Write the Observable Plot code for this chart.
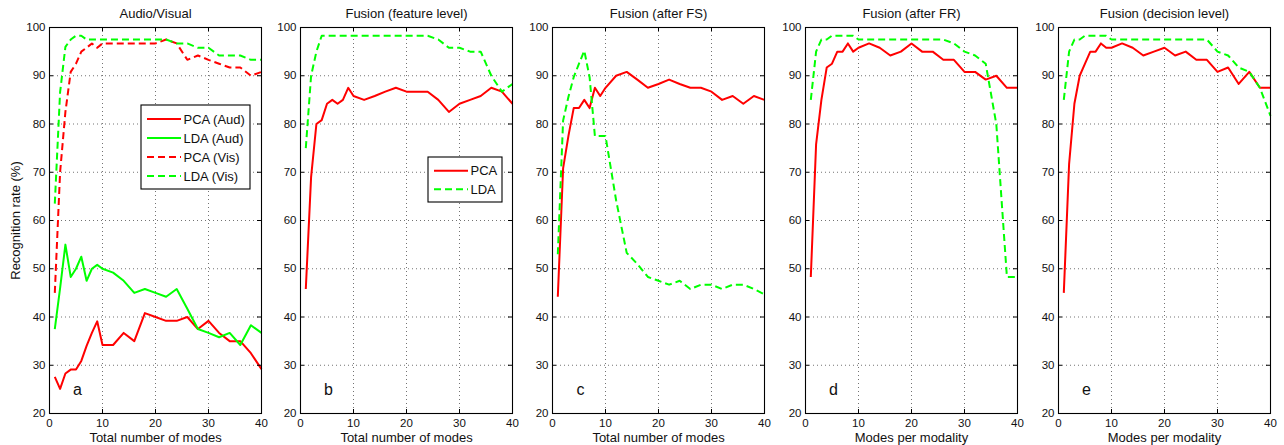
<!DOCTYPE html>
<html>
<head>
<meta charset="utf-8">
<script src="https://cdn.jsdelivr.net/npm/d3@7"></script>
<script src="https://cdn.jsdelivr.net/npm/@observablehq/plot@0.6"></script>
<style>
  html, body { margin: 0; padding: 0; background: #fff; }
  #fig { position: relative; width: 1284px; height: 445px; overflow: hidden; font-family: "Liberation Sans", Arial, Helvetica, sans-serif; }
  #fig > div { position: absolute; top: 0; }
</style>
</head>
<body>
<div id="fig"></div>
<script>
// ---- data ----
const modes = [1,2,3,4,5,6,7,8,9,10,12,14,16,18,20,22,24,26,28,30,32,34,36,38,40];
const xTicks = [0,10,20,30,40];
const yTicks = [20,30,40,50,60,70,80,90,100];

const titles = ["Audio/Visual","Fusion (feature level)","Fusion (after FS)","Fusion (after FR)","Fusion (decision level)"];
const xLabels = ["Total number of modes","Total number of modes","Total number of modes","Modes per modality","Modes per modality"];
const letters = ["a","b","c","d","e"];
const yLabel = "Recognition rate (%)";

// Panel a
const pcaAud = [27.6,25.1,28.3,29.1,29.1,30.9,34.0,36.7,39.1,34.2,34.2,36.7,35.0,40.8,40.0,39.2,39.2,40.0,37.5,39.2,36.7,35.0,35.0,32.5,29.2];
const ldaAud = [37.5,46.0,55.0,48.3,50.0,52.5,47.5,50.0,50.8,50.0,49.2,47.5,45.0,45.8,45.0,44.2,45.8,41.7,37.5,36.7,35.8,36.7,34.2,38.3,36.7];
const pcaVis = [45.0,70.0,82.5,90.8,92.5,95.0,95.8,96.7,95.8,96.7,96.7,96.7,96.7,96.7,96.7,97.5,96.7,93.3,94.2,93.3,92.5,91.7,91.7,90.0,90.8];
const ldaVis = [63.5,86.6,96.0,97.5,98.3,98.3,97.5,97.5,97.5,97.5,97.5,97.5,97.5,97.5,97.5,97.5,96.7,96.7,95.8,95.8,94.2,94.2,94.2,93.3,93.3];
// Panel b
const pcaFeat = [45.8,69.0,80.0,80.8,84.2,85.0,84.2,85.0,87.5,85.8,85.0,85.8,86.7,87.5,86.7,86.7,86.7,85.0,82.5,84.2,85.0,85.8,87.5,86.7,84.2];
const ldaFeat = [75.0,90.0,95.0,98.3,98.3,98.3,98.3,98.3,98.3,98.3,98.3,98.3,98.3,98.3,98.3,98.3,98.3,97.5,95.8,95.8,95.0,95.0,90.0,86.7,88.3];
// Panel c
const pcaFS = [44.2,70.8,77.5,83.3,83.3,85.0,83.3,87.5,85.8,87.5,90.0,90.8,89.2,87.5,88.3,89.2,88.3,87.5,87.5,86.7,85.0,85.8,84.2,85.8,85.0];
const ldaFS = [53.0,80.7,85.6,89.7,92.5,95.2,89.7,77.5,77.5,77.5,64.2,53.3,51.0,48.3,47.5,46.7,47.5,45.8,46.7,46.7,45.8,46.7,46.7,45.8,44.7];
// Panel d
const pcaFR = [48.3,75.8,85.0,91.7,92.5,95.0,95.0,96.7,95.0,95.8,96.7,95.8,94.2,95.0,96.7,95.0,95.0,93.3,93.3,90.8,90.8,89.2,90.0,87.5,87.5];
const ldaFR = [85.0,95.0,97.5,97.5,98.3,98.3,98.3,98.3,98.3,97.5,97.5,97.5,97.5,97.5,97.5,97.5,97.5,97.5,96.7,95.0,94.2,92.5,80.0,48.3,48.3];
// Panel e
const pcaDec = [45.0,71.7,84.2,90.0,92.5,95.0,95.0,96.7,95.8,95.8,96.7,95.8,94.2,95.0,95.8,94.2,95.0,93.3,93.3,90.8,91.7,88.3,90.8,87.5,87.5];
const ldaDec = [85.0,95.0,97.5,97.5,98.3,98.3,98.3,98.3,98.3,97.5,97.5,97.5,97.5,97.5,97.5,97.5,97.5,97.5,97.5,95.0,94.2,91.7,90.8,87.5,81.7];

const RED = "#ff0000", GREEN = "#00ff00";
const DASH = "7,4";

const panels = [
  {series: [
    {name: "PCA (Aud)", values: pcaAud, color: RED, dash: null},
    {name: "LDA (Aud)", values: ldaAud, color: GREEN, dash: null},
    {name: "PCA (Vis)", values: pcaVis, color: RED, dash: DASH},
    {name: "LDA (Vis)", values: ldaVis, color: GREEN, dash: DASH}],
   legend: {x: 92, y: 105, w: 109, h: 84}},
  {series: [
    {name: "PCA", values: pcaFeat, color: RED, dash: null},
    {name: "LDA", values: ldaFeat, color: GREEN, dash: DASH}],
   legend: {x: 128, y: 157, w: 74, h: 45}},
  {series: [
    {name: "PCA", values: pcaFS, color: RED, dash: null},
    {name: "LDA", values: ldaFS, color: GREEN, dash: DASH}]},
  {series: [
    {name: "PCA", values: pcaFR, color: RED, dash: null},
    {name: "LDA", values: ldaFR, color: GREEN, dash: DASH}]},
  {series: [
    {name: "PCA", values: pcaDec, color: RED, dash: null},
    {name: "LDA", values: ldaDec, color: GREEN, dash: DASH}]}
];

// ---- layout ----
const frameLefts = [49, 300, 552, 805, 1058];
const frameW = 212, H = 445, mTop = 27, mBottom = 32;
const frameH = H - mTop - mBottom;
const fig = document.getElementById("fig");

panels.forEach((p, i) => {
  const mLeft = i === 0 ? 49 : 36;
  const mRight = 6;
  const width = mLeft + frameW + mRight;
  const lineMarks = p.series.map(s =>
    Plot.line(modes.map((m, k) => ({x: m, y: s.values[k]})), {
      x: "x", y: "y", stroke: s.color, strokeWidth: 2,
      strokeDasharray: s.dash, strokeLinejoin: "round", strokeLinecap: "butt"
    }));
  const marks = [
    Plot.ruleX(xTicks.slice(1, -1), {stroke: "#000", strokeOpacity: 0.55, strokeDasharray: "1,3"}),
    Plot.ruleY(yTicks.slice(1, -1), {stroke: "#000", strokeOpacity: 0.55, strokeDasharray: "1,3"}),
    ...lineMarks,
    Plot.tickX(xTicks, {stroke: "#000", insetTop: frameH - 4}),
    Plot.tickX(xTicks, {stroke: "#000", insetBottom: frameH - 4}),
    Plot.tickY(yTicks, {stroke: "#000", insetRight: frameW - 4}),
    Plot.tickY(yTicks, {stroke: "#000", insetLeft: frameW - 4}),
    Plot.frame({stroke: "#000", strokeWidth: 1.1}),
    Plot.axisX(xTicks, {tickSize: 0, tickPadding: 5, label: null, fontSize: 11.5}),
    Plot.axisY(yTicks, {tickSize: 0, tickPadding: 4, label: null, fontSize: 11.5}),
    Plot.text([titles[i]], {frameAnchor: "top", dy: -14, lineAnchor: "middle", fontSize: 13}),
    Plot.text([xLabels[i]], {frameAnchor: "bottom", dy: 24, lineAnchor: "middle", fontSize: 13}),
    Plot.text([letters[i]], {frameAnchor: "bottom-left", dx: 28, dy: -24, textAnchor: "middle", lineAnchor: "middle", fontSize: 16})
  ];
  if (i === 0) {
    marks.push(Plot.text([yLabel], {frameAnchor: "left", dx: -34, rotate: -90, textAnchor: "middle", lineAnchor: "middle", fontSize: 13}));
  }
  const svg = Plot.plot({
    width, height: H,
    marginLeft: mLeft, marginRight: mRight, marginTop: mTop, marginBottom: mBottom,
    x: {domain: [0, 40]},
    y: {domain: [20, 100]},
    style: {fontFamily: '"Liberation Sans", Arial, Helvetica, sans-serif', fontSize: "11px", background: "transparent", color: "#111", overflow: "visible"},
    marks
  });
  // legend box
  if (p.legend) {
    const L = p.legend;
    const g = d3.select(svg).append("g").attr("transform", `translate(${mLeft + L.x},${L.y})`);
    g.append("rect").attr("width", L.w).attr("height", L.h).attr("fill", "#fff").attr("stroke", "#000").attr("stroke-width", 1.1);
    const rowH = (L.h - 8) / p.series.length;
    p.series.forEach((s, k) => {
      const cy = 4 + rowH * (k + 0.5) + 0.5;
      g.append("line").attr("x1", 6).attr("x2", 40).attr("y1", cy).attr("y2", cy)
        .attr("stroke", s.color).attr("stroke-width", 2).attr("stroke-dasharray", s.dash);
      g.append("text").attr("x", 42.5).attr("y", cy).attr("dy", "0.35em")
        .attr("text-anchor", "start").attr("font-size", 13).attr("fill", "#111").text(s.name);
    });
  }
  const holder = document.createElement("div");
  holder.style.left = (frameLefts[i] - mLeft) + "px";
  holder.appendChild(svg);
  fig.appendChild(holder);
});
</script>
</body>
</html>
